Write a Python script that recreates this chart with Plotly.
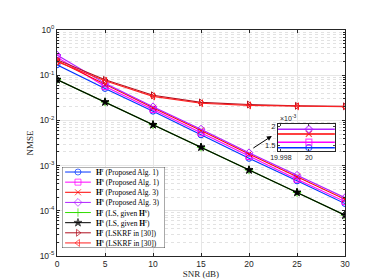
import plotly.graph_objects as go

snr = [0, 5, 10, 15, 20, 25, 30]
hr_alg1 = [0.17, 0.051, 0.016, 0.0048, 1.45e-3, 4.6e-4, 1.45e-4]
hs_alg1 = [0.25, 0.056, 0.0175, 0.0053, 1.59e-3, 5.0e-4, 1.6e-4]
hr_alg3 = [0.21, 0.062, 0.019, 0.0060, 1.80e-3, 5.7e-4, 1.8e-4]
hs_alg3 = [0.28, 0.066, 0.020, 0.0064, 1.92e-3, 6.1e-4, 1.95e-4]
hr_ls = [0.080, 0.0255, 0.0080, 0.00255, 8.0e-4, 2.55e-4, 8.0e-5]
hs_ls = [0.080, 0.0255, 0.0080, 0.00255, 8.0e-4, 2.55e-4, 8.0e-5]
hr_lskrf = [0.22, 0.079, 0.036, 0.025, 0.0225, 0.021, 0.0205]
hs_lskrf = [0.20, 0.075, 0.034, 0.024, 0.0215, 0.0205, 0.0200]

labels = [
    "<b>H</b><sup>r</sup> (Proposed Alg. 1)",
    "<b>H</b><sup>s</sup> (Proposed Alg. 1)",
    "<b>H</b><sup>r</sup> (Proposed Alg. 3)",
    "<b>H</b><sup>s</sup> (Proposed Alg. 3)",
    "<b>H</b><sup>r</sup> (LS, given <b>H</b><sup>s</sup>)",
    "<b>H</b><sup>s</sup> (LS, given <b>H</b><sup>r</sup>)",
    "<b>H</b><sup>r</sup> (LSKRF in [30])",
    "<b>H</b><sup>s</sup> (LSKRF in [30])",
]
yticks = [1e-5, 1e-4, 1e-3, 1e-2, 1e-1, 1]
yticktext = ["10<sup>-5</sup>", "10<sup>-4</sup>", "10<sup>-3</sup>", "10<sup>-2</sup>",
             "10<sup>-1</sup>", "10<sup>0</sup>"]
xticks = [0, 5, 10, 15, 20, 25, 30]
inset_xticks = [19.998, 20]
inset_xtext = ["19.998", "20"]
inset_yticks = [1.5e-3, 2e-3]
inset_ytext = ["1.5", "2"]
inset_xrange = [19.99779, 20.00186]
inset_yrange = [1.373e-3, 2.058e-3]
inset_idx = 4  # SNR = 20 dB

series = [hr_alg1, hs_alg1, hr_alg3, hs_alg3, hr_ls, hs_ls, hr_lskrf, hs_lskrf]
colors = ["#0033ff", "#ff00ff", "#ff0000", "#b020ff", "#33dd00", "#000000", "#b01020", "#ff2020"]
symbols = ["circle-open", "square-open", "x-thin-open", "diamond-open", "cross-thin-open",
           "star", "triangle-right-open", "triangle-left-open"]

fig = go.Figure()
for s, c, m in zip(series, colors, symbols):
    fig.add_trace(go.Scatter(x=snr, y=s, mode="lines+markers",
                             line=dict(color=c, width=1.1),
                             marker=dict(symbol=m, size=6, color=c, line=dict(color=c, width=1)),
                             showlegend=False, xaxis="x", yaxis="y"))

# inset: zoom on SNR = 20 dB (curves are flat over the tiny x-range)
for s, c, m in list(zip(series, colors, symbols))[:4]:
    v = s[inset_idx]
    fig.add_trace(go.Scatter(x=[inset_xrange[0], snr[inset_idx], inset_xrange[1]], y=[v, v, v],
                             mode="lines+markers", line=dict(color=c, width=1.5),
                             marker=dict(symbol=m, size=[0, 6, 0], color=c,
                                         line=dict(color=c, width=1.2)),
                             cliponaxis=True, showlegend=False, xaxis="x2", yaxis="y2"))

# custom legend
n = len(labels)
for i, (c, m) in enumerate(zip(colors, symbols)):
    yc = n - i - 0.5
    fig.add_trace(go.Scatter(x=[0.03, 0.155, 0.28], y=[yc, yc, yc], mode="lines+markers",
                             line=dict(color=c, width=1),
                             marker=dict(symbol=m, size=[0, 6, 0], color=c, line=dict(color=c, width=1)),
                             showlegend=False, xaxis="x3", yaxis="y3", hoverinfo="skip"))
    fig.add_annotation(x=0.31, y=yc, xref="x3", yref="y3", text=labels[i], showarrow=False,
                       xanchor="left", yanchor="middle",
                       font=dict(family="Liberation Serif", size=7.5, color="#000000"))

fig.add_shape(type="rect", xref="x3", yref="y3", x0=0, x1=1, y0=0, y1=n, layer="below",
              fillcolor="white", line=dict(color="#262626", width=0.8))
fig.add_shape(type="rect", xref="x2", yref="y2", x0=inset_xrange[0], x1=inset_xrange[1],
              y0=inset_yrange[0], y1=inset_yrange[1],
              layer="below", fillcolor="white", line=dict(width=0))

axfont = dict(family="Liberation Sans", size=8.5, color="#262626")
fig.update_layout(
    width=374, height=279,
    margin=dict(l=49, r=37, t=22, b=31),
    paper_bgcolor="white", plot_bgcolor="white",
    xaxis=dict(domain=[0, 1], range=[0, 30], tickvals=xticks, ticks="inside", ticklen=3,
               showline=True, mirror="ticks", linecolor="#262626", linewidth=0.8,
               tickcolor="#262626", showgrid=True, gridcolor="#e6e6e6", gridwidth=0.6,
               zeroline=False, tickfont=axfont, anchor="y",
               title=dict(text="SNR (dB)", standoff=1,
                          font=dict(family="Liberation Serif", size=9, color="#262626"))),
    yaxis=dict(domain=[0, 1], type="log", range=[-5, 0], tickvals=yticks, ticktext=yticktext,
               ticks="inside", ticklen=3, showline=True, mirror="ticks", linecolor="#262626",
               linewidth=0.8, tickcolor="#262626", showgrid=True, gridcolor="#e6e6e6",
               gridwidth=0.6, zeroline=False, tickfont=axfont, anchor="x",
               minor=dict(tickvals=[k * 10 ** e for e in range(-5, 0) for k in range(2, 10)],
                          ticks="inside", ticklen=2, tickcolor="#262626", showgrid=True,
                          gridcolor="#e2e2e2", griddash="dot", gridwidth=0.6),
               title=dict(text="NMSE", standoff=4,
                          font=dict(family="Liberation Serif", size=9, color="#262626"))),
    xaxis2=dict(domain=[0.767, 0.965], range=inset_xrange, tickvals=inset_xticks,
                ticktext=inset_xtext, ticks="inside", ticklen=2, showline=True, mirror="ticks",
                linecolor="#262626", linewidth=0.8, showgrid=False, zeroline=False,
                tickfont=dict(family="Liberation Sans", size=7, color="#262626"), anchor="y2"),
    yaxis2=dict(domain=[0.466, 0.585], range=inset_yrange, tickvals=inset_yticks,
                ticktext=inset_ytext, ticks="inside", ticklen=2, showline=True, mirror="ticks",
                linecolor="#262626", linewidth=0.8, showgrid=False, zeroline=False,
                tickfont=dict(family="Liberation Sans", size=7.5, color="#262626"), anchor="x2"),
    xaxis3=dict(domain=[0.0174, 0.375], range=[0, 1], visible=False, anchor="y3"),
    yaxis3=dict(domain=[0.0354, 0.394], range=[0, n], visible=False, anchor="x3"),
)

fig.add_annotation(x=0.0, y=1.0, xref="x2 domain", yref="y2 domain", text="×10<sup>-3</sup>",
                   showarrow=False, xanchor="left", yanchor="bottom",
                   font=dict(family="Liberation Sans", size=7, color="#262626"))
fig.add_annotation(x=0.746, y=0.531, xref="paper", yref="paper", ax=-20, ay=13,
                   text="", showarrow=True, arrowhead=2, arrowsize=1, arrowwidth=1,
                   arrowcolor="#000000")

fig.write_html("out.html")
